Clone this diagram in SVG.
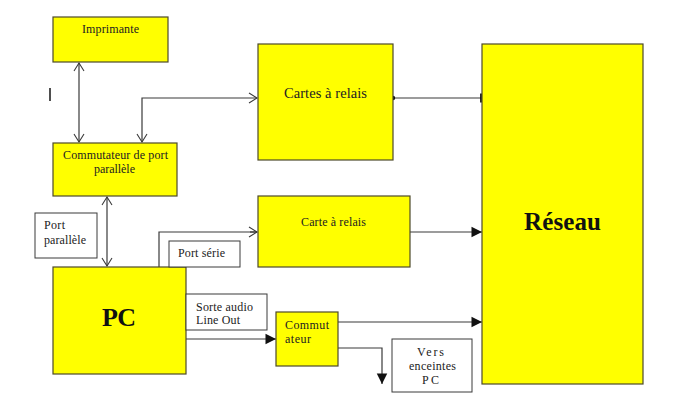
<svg xmlns="http://www.w3.org/2000/svg" width="700" height="408" viewBox="0 0 700 408">
<style>
.box{fill:#ffff00;stroke:#4d4a2a;stroke-width:1.2}
.lbl{fill:#ffffff;stroke:#3a3a3a;stroke-width:1}
.t{font-family:"Liberation Serif","Times New Roman",serif;font-size:12px;fill:#222}
.tb{font-family:"Liberation Serif","Times New Roman",serif;font-weight:bold;fill:#111}
.c{fill:none;stroke:#3a3a3a;stroke-width:1.2}
</style>
<defs>
<marker id="open" markerUnits="userSpaceOnUse" markerWidth="14" markerHeight="14" viewBox="-10 -7 12 14" refX="0" refY="0" orient="auto-start-reverse">
<path d="M-8,-5 L0,0 L-8,5" fill="none" stroke="#3a3a3a" stroke-width="1.1"/>
</marker>
<marker id="fill" markerUnits="userSpaceOnUse" markerWidth="14" markerHeight="14" viewBox="-11 -6 12 12" refX="0" refY="0" orient="auto">
<path d="M-9,-4.5 L0,0 L-9,4.5 Z" fill="#111"/>
</marker>
<marker id="dot" markerUnits="userSpaceOnUse" markerWidth="8" markerHeight="8" viewBox="-4 -4 8 8" refX="0" refY="0">
<circle r="2.2" fill="#111"/>
</marker>
<marker id="tick" markerUnits="userSpaceOnUse" markerWidth="8" markerHeight="12" viewBox="-4 -6 8 12" refX="0" refY="0">
<path d="M0,-4.5 L0,4.5" stroke="#111" stroke-width="1.8"/>
</marker>
</defs>
<rect width="700" height="408" fill="#ffffff"/>

<g id="connectors">
<path class="c" d="M79,63 L79,142" marker-start="url(#open)" marker-end="url(#open)"/>
<path class="c" d="M142,142 L142,98 L257,98" marker-start="url(#open)" marker-end="url(#open)"/>
<path class="c" d="M393,98 L481,98" marker-start="url(#dot)" marker-end="url(#tick)"/>
<path class="c" d="M107,197 L107,266" marker-start="url(#open)" marker-end="url(#open)"/>
<path class="c" d="M159,267 L159,232 L257,232"/>
<path class="c" d="M250,232 L257,232" marker-end="url(#open)"/>
<path class="c" d="M410,232 L482,232" marker-end="url(#fill)"/>
<path class="c" d="M186,339 L276,339" marker-end="url(#fill)"/>
<path class="c" d="M338,322 L482,322" marker-end="url(#fill)"/>
<path class="c" d="M338,348 L382,348 L382,384" marker-end="url(#fill)"/>
</g>

<line x1="50" y1="88" x2="50" y2="101" stroke="#222" stroke-width="1.6"/>

<g id="imprimante">
<rect class="box" x="53" y="17" width="115" height="45"/>
<text class="t" x="82" y="33" textLength="57">Imprimante</text>
</g>

<g id="commutateur-port">
<rect class="box" x="53" y="143" width="124" height="53"/>
<text class="t" x="63" y="159" textLength="105">Commutateur de port</text>
<text class="t" x="94" y="173" textLength="41">parallèle</text>
</g>

<g id="cartes-relais">
<rect class="box" x="258" y="44" width="135" height="116"/>
<text class="t" x="284" y="98" style="font-size:14.5px" textLength="83">Cartes à relais</text>
</g>

<g id="reseau">
<rect class="box" x="482" y="44" width="161" height="340"/>
<text class="tb" x="524" y="230" style="font-size:25px" textLength="77">Réseau</text>
</g>

<g id="port-parallele">
<rect class="lbl" x="35" y="213" width="62" height="45"/>
<text class="t" x="44" y="229" textLength="21">Port</text>
<text class="t" x="44" y="244" textLength="42">parallèle</text>
</g>

<g id="pc">
<rect class="box" x="53" y="267" width="133" height="107"/>
<text class="tb" x="102" y="326" style="font-size:26px" textLength="34">PC</text>
</g>

<g id="port-serie">
<rect class="lbl" x="169" y="241" width="71" height="26"/>
<text class="t" x="178" y="257" textLength="47">Port série</text>
</g>

<g id="carte-relais">
<rect class="box" x="258" y="196" width="152" height="71"/>
<text class="t" x="301" y="226" textLength="65">Carte à relais</text>
</g>

<g id="sortie-audio">
<rect class="lbl" x="186" y="294" width="81" height="36"/>
<text class="t" x="196" y="311" textLength="57">Sorte audio</text>
<text class="t" x="196" y="324" textLength="44">Line Out</text>
</g>

<g id="commutateur">
<rect class="box" x="276" y="312" width="62" height="54"/>
<text class="t" x="285" y="329" textLength="44">Commut</text>
<text class="t" x="285" y="343" textLength="26">ateur</text>
</g>

<g id="vers-enceintes">
<rect class="lbl" x="392" y="339" width="80" height="53"/>
<text class="t" x="417" y="356" textLength="27">Vers</text>
<text class="t" x="409" y="370" textLength="47">enceintes</text>
<text class="t" x="422" y="384" textLength="17">PC</text>
</g>
</svg>
